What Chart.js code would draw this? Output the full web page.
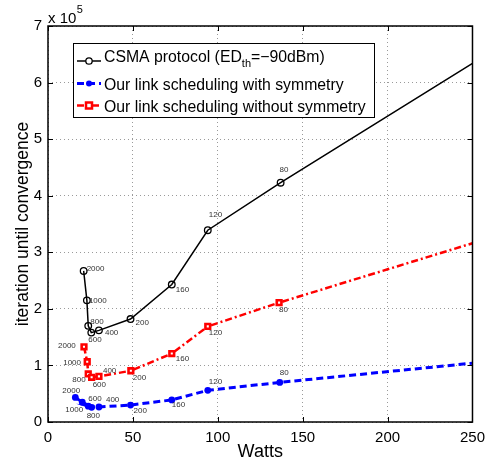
<!DOCTYPE html>
<html>
<head>
<meta charset="utf-8">
<script src="https://cdn.jsdelivr.net/npm/chart.js@4.4.0/dist/chart.umd.min.js"></script>
<style>
  html, body { margin: 0; padding: 0; background: #fff; }
  #wrap { width: 492px; height: 464px; }
</style>
</head>
<body>
<div id="wrap"><canvas id="chart" width="492" height="464"></canvas></div>
<script>
// labels printed next to each marker
const pointLabels = ['2000', '1000', '800', '600', '400', '200', '160', '120', '80'];

// CSMA protocol (ED_th = -90 dBm)
const csmaWatts = [21.0, 22.9, 23.7, 25.5, 30.0, 48.6, 72.9, 94.1, 137.0, 250];
const csmaIter = [267000, 215000, 170000, 158000, 162000, 182000, 243000, 339000, 423000, 634000];

// our link scheduling with symmetry
const symWatts = [16.1, 20.2, 25.7, 23.7, 30.0, 48.6, 72.9, 94.1, 136.5, 250];
const symIter = [43500, 35000, 26000, 28000, 26500, 30000, 39000, 56000, 70000, 104000];

// our link scheduling without symmetry
const noSymWatts = [21.2, 23.1, 23.7, 25.7, 30.0, 48.8, 72.9, 94.1, 136.1, 250];
const noSymIter = [133000, 106500, 85000, 79000, 80600, 90600, 121000, 169000, 211000, 316000];

const xMin = 0, xMax = 250, xStep = 50;
const yMin = 0, yMax = 700000, yStep = 100000;

// where each small label sits relative to its marker (px)
const csmaLabelOffsets = [[3, -2], [2, 0], [2, -4], [-3, 7], [6, 2], [5, 4], [4, 5], [1, -15], [-1, -13]];
const symLabelOffsets = [[-13, -7], [-17, 8], [-5, 9], [0, -7], [7, -7], [3, 6], [0, 5], [1, -9], [0, -10]];
const noSymLabelOffsets = [[-26, -1], [-24, 1], [-16, 6], [1, 7], [4, -6], [2, 7], [4, 5], [1, 6], [0, 7]];

const FONT = '"Liberation Sans", Arial, Helvetica, sans-serif';

function toPoints(xs, ys) {
    return xs.map((x, i) => ({ x: x, y: ys[i] }));
}

function markerRadius(r) {
    return ctx => (ctx.dataIndex < pointLabels.length ? r : 0);
}

const pointLabelPlugin = {
    id: 'pointLabelPlugin',
    afterDatasetsDraw(chart) {
        const c = chart.ctx;
        c.save();
        c.font = '8px ' + FONT;
        c.fillStyle = '#333';
        c.textAlign = 'left';
        c.textBaseline = 'middle';
        chart.data.datasets.forEach((ds, i) => {
            const meta = chart.getDatasetMeta(i);
            pointLabels.forEach((txt, j) => {
                const el = meta.data[j];
                const off = ds.labelOffsets[j];
                c.fillText(txt, el.x + off[0], el.y + off[1]);
            });
        });
        c.restore();
    }
};

function drawMarker(c, style, x, y) {
    c.save();
    c.setLineDash([]);
    if (style === 'circle-open') {
        c.strokeStyle = '#000';
        c.lineWidth = 1.3;
        c.fillStyle = '#fff';
        c.beginPath();
        c.arc(x, y, 3.2, 0, Math.PI * 2);
        c.fill();
        c.stroke();
    } else if (style === 'dot') {
        c.fillStyle = '#0000ff';
        c.beginPath();
        c.arc(x, y, 3, 0, Math.PI * 2);
        c.fill();
    } else {
        c.strokeStyle = '#ff0000';
        c.lineWidth = 2.5;
        c.fillStyle = '#fff';
        c.fillRect(x - 3, y - 3, 6, 6);
        c.strokeRect(x - 3, y - 3, 6, 6);
    }
    c.restore();
}

const framePlugin = {
    id: 'framePlugin',
    afterDraw(chart) {
        const c = chart.ctx;
        const a = chart.chartArea;
        const xs = chart.scales.x;
        const ys = chart.scales.y;
        c.save();

        // inward tick marks on all four sides
        c.strokeStyle = '#000';
        c.lineWidth = 1;
        c.beginPath();
        xs.ticks.forEach(t => {
            const px = Math.round(xs.getPixelForValue(t.value)) + 0.5;
            c.moveTo(px, a.bottom); c.lineTo(px, a.bottom - 5);
            c.moveTo(px, a.top); c.lineTo(px, a.top + 5);
        });
        ys.ticks.forEach(t => {
            const py = Math.round(ys.getPixelForValue(t.value)) + 0.5;
            c.moveTo(a.left, py); c.lineTo(a.left + 5, py);
            c.moveTo(a.right, py); c.lineTo(a.right - 5, py);
        });
        c.stroke();

        // axes box
        c.lineWidth = 1.5;
        c.strokeRect(a.left, a.top, a.right - a.left, a.bottom - a.top);

        // exponent label
        c.fillStyle = '#000';
        c.textBaseline = 'alphabetic';
        c.textAlign = 'left';
        c.font = '15px ' + FONT;
        c.fillText('x 10', a.left, 22.5);
        const w = c.measureText('x 10').width;
        c.font = '11px ' + FONT;
        c.fillText('5', a.left + w + 0.5, 13.3);

        // legend
        const lx = 73, ly = 43, lw = 301, lh = 74;
        c.fillStyle = '#fff';
        c.fillRect(lx, ly, lw, lh);
        c.strokeStyle = '#000';
        c.lineWidth = 1;
        c.strokeRect(lx + 0.5, ly + 0.5, lw, lh);
        const rowsLine = [61, 83.5, 105.5];
        const rowsText = [62, 89.8, 111.7];
        chart.data.datasets.forEach((ds, i) => {
            const y = rowsLine[i];
            c.save();
            c.strokeStyle = ds.borderColor;
            c.lineWidth = ds.borderWidth;
            c.setLineDash(ds.borderDash || []);
            c.beginPath();
            c.moveTo(77, y);
            c.lineTo(101, y);
            c.stroke();
            c.restore();
            drawMarker(c, ds.legendMarker, 89, y);

            c.fillStyle = '#000';
            const parts = ds.legendParts;
            let x = 104;
            parts.forEach(p => {
                if (p.sub) {
                    c.font = '11px ' + FONT;
                    c.fillText(p.text, x, rowsText[i] + 5);
                } else {
                    c.font = '15.8px ' + FONT;
                    c.fillText(p.text, x, rowsText[i]);
                }
                x += c.measureText(p.text).width;
            });
        });
        c.restore();
    }
};

const ctx = document.getElementById('chart').getContext('2d');
const chart = new Chart(ctx, {
    type: 'line',
    data: {
        datasets: [
            {
                label: 'CSMA protocol (EDth=−90dBm)',
                legendParts: [{ text: 'CSMA protocol (ED' }, { text: 'th', sub: true }, { text: '=−90dBm)' }],
                legendMarker: 'circle-open',
                data: toPoints(csmaWatts, csmaIter),
                labelOffsets: csmaLabelOffsets,
                borderColor: '#000000',
                borderWidth: 1.5,
                pointStyle: 'circle',
                pointRadius: markerRadius(3.3),
                pointBorderWidth: 1.3,
                pointBorderColor: '#000000',
                pointBackgroundColor: 'rgba(255,255,255,0)',
                tension: 0
            },
            {
                label: 'Our link scheduling with symmetry',
                legendParts: [{ text: 'Our link scheduling with symmetry' }],
                legendMarker: 'dot',
                data: toPoints(symWatts, symIter),
                labelOffsets: symLabelOffsets,
                borderColor: '#0000ff',
                borderWidth: 3,
                borderDash: [7, 4],
                pointStyle: 'circle',
                pointRadius: markerRadius(3.4),
                pointBorderWidth: 0,
                pointBackgroundColor: '#0000ff',
                tension: 0
            },
            {
                label: 'Our link scheduling without symmetry',
                legendParts: [{ text: 'Our link scheduling without symmetry' }],
                legendMarker: 'square',
                data: toPoints(noSymWatts, noSymIter),
                labelOffsets: noSymLabelOffsets,
                borderColor: '#ff0000',
                borderWidth: 2.5,
                borderDash: [7, 3, 2, 3],
                pointStyle: 'rect',
                pointRadius: markerRadius(3.3),
                pointBorderWidth: 2.6,
                pointBorderColor: '#ff0000',
                pointBackgroundColor: '#ffffff',
                tension: 0
            }
        ]
    },
    options: {
        responsive: false,
        animation: false,
        layout: { padding: { top: 26, right: 19, left: 0, bottom: 0 } },
        plugins: {
            legend: { display: false },
            tooltip: { enabled: false }
        },
        scales: {
            x: {
                type: 'linear',
                min: xMin,
                max: xMax,
                afterFit: scale => { scale.height = 42; },
                ticks: {
                    stepSize: xStep,
                    color: '#000',
                    padding: 7,
                    maxRotation: 0,
                    font: { family: FONT, size: 15 }
                },
                grid: { color: '#9a9a9a', lineWidth: 1, drawTicks: false, borderDash: [1, 3] },
                border: { display: false, dash: [1, 3] },
                title: {
                    display: true,
                    text: 'Watts',
                    color: '#000',
                    font: { family: FONT, size: 18 },
                    padding: { top: 0, bottom: 1 }
                }
            },
            y: {
                type: 'linear',
                min: yMin,
                max: yMax,
                afterFit: scale => { scale.width = 48; },
                ticks: {
                    stepSize: yStep,
                    color: '#000',
                    padding: 6,
                    font: { family: FONT, size: 15 },
                    callback: v => v / 100000
                },
                grid: { color: '#9a9a9a', lineWidth: 1, drawTicks: false, borderDash: [1, 3] },
                border: { display: false, dash: [1, 3] },
                title: {
                    display: true,
                    text: 'iteration until convergence',
                    color: '#000',
                    font: { family: FONT, size: 17.5 },
                    padding: { top: 13, bottom: 0 }
                }
            }
        }
    },
    plugins: [pointLabelPlugin, framePlugin]
});
</script>
</body>
</html>
